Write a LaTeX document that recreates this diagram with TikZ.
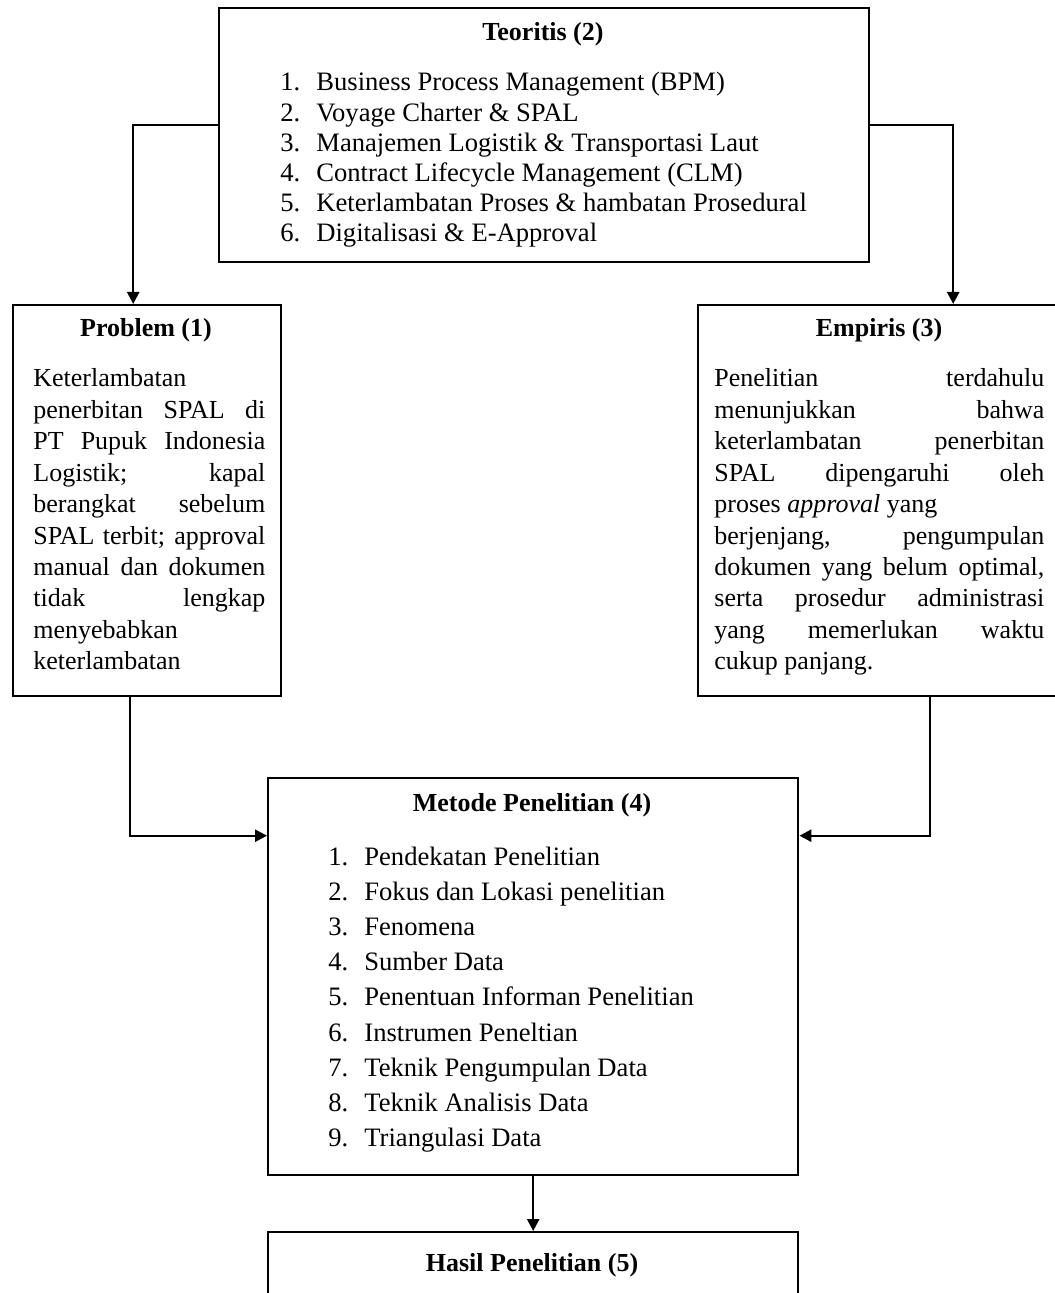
\documentclass[tikz,border=0pt]{standalone}
\usepackage{fontspec}
\setmainfont{Liberation Serif}
\usetikzlibrary{arrows.meta}

\tikzstyle{block} = [rectangle, draw, line width=1.2pt, inner sep=0pt, anchor=north west]
\tikzstyle{head} = [font=\fontsize{13}{15}\selectfont\bfseries, inner sep=0pt, anchor=base]
\tikzstyle{para} = [font=\fontsize{13}{15.7}\selectfont, inner sep=0pt, align=justify, anchor=base west]
\tikzstyle{items} = [inner sep=0pt, align=flush left, anchor=base west]
\tikzstyle{arrow} = [line width=1.2pt, -{Triangle[width=6pt,length=6pt]}]
\newcommand{\itm}[1]{\makebox[18pt][l]{#1.}}

\begin{document}
\begin{tikzpicture}[x=0.5pt, y=-0.5pt]
    \useasboundingbox (0,0) rectangle (1054,1293);
    % boxes
    \node (teori) [block, minimum width=325pt, minimum height=127pt] at (218,7) {};
    \node (problem) [block, minimum width=134pt, minimum height=195.5pt] at (12,304) {};
    \node (empiris) [block, minimum width=182pt, minimum height=195.5pt] at (697,304) {};
    \node (metode) [block, minimum width=265pt, minimum height=198.5pt] at (267,777) {};
    \node (hasil) [block, minimum width=265pt, minimum height=60pt] at (267,1231) {};
    % texts
    \node (teorihead) [head] at (543,41) {Teoritis (2)};
    \node (teorilist) [items, text width=280pt, font=\fontsize{13.3}{15.1}\selectfont] at (280,91) {
        \itm{1}Business Process Management (BPM)\\
        \itm{2}Voyage Charter \& SPAL\\
        \itm{3}Manajemen Logistik \& Transportasi Laut\\
        \itm{4}Contract Lifecycle Management (CLM)\\
        \itm{5}Keterlambatan Proses \& hambatan Prosedural\\
        \itm{6}Digitalisasi \& E-Approval};
    \node (problemhead) [head] at (146,337) {Problem (1)};
    \node (problemtext) [para, text width=116pt] at (33,387) {
        Keterlambatan\linebreak
        penerbitan SPAL di\linebreak
        PT Pupuk Indonesia\linebreak
        Logistik; kapal\linebreak
        berangkat sebelum\linebreak
        SPAL terbit; approval\linebreak
        manual dan dokumen\linebreak
        tidak lengkap\linebreak
        menyebabkan\linebreak
        keterlambatan};
    \node (empirishead) [head] at (879,337) {Empiris (3)};
    \node (empiristext) [para, text width=165pt] at (714,387) {
        Penelitian terdahulu\linebreak
        menunjukkan bahwa\linebreak
        keterlambatan penerbitan\linebreak
        SPAL dipengaruhi oleh\linebreak
        proses \textit{approval} yang\newline
        berjenjang, pengumpulan\linebreak
        dokumen yang belum optimal,\linebreak
        serta prosedur administrasi\linebreak
        yang memerlukan waktu\linebreak
        cukup panjang.};
    \node (metodehead) [head] at (532,811) {Metode Penelitian (4)};
    \node (metodelist) [items, text width=220pt, font=\fontsize{13.3}{17.6}\selectfont] at (328,865) {
        \itm{1}Pendekatan Penelitian\\
        \itm{2}Fokus dan Lokasi penelitian\\
        \itm{3}Fenomena\\
        \itm{4}Sumber Data\\
        \itm{5}Penentuan Informan Penelitian\\
        \itm{6}Instrumen Peneltian\\
        \itm{7}Teknik Pengumpulan Data\\
        \itm{8}Teknik Analisis Data\\
        \itm{9}Triangulasi Data};
    \node (hasilhead) [head] at (532,1271) {Hasil Penelitian (5)};
    % arrows
    \draw [arrow] ([yshift=5pt]teori.west) -| ([xshift=-7pt]problem.north);
    \draw [arrow] ([yshift=5pt]teori.east) -| ([xshift=36.5pt]empiris.north);
    \draw [arrow] ([xshift=-8.5pt]problem.south) |- ([yshift=70.5pt]metode.west);
    \draw [arrow] ([xshift=25pt]empiris.south) |- ([yshift=70.5pt]metode.east);
    \draw [arrow] (metode) -- (hasil);
\end{tikzpicture}
\end{document}
